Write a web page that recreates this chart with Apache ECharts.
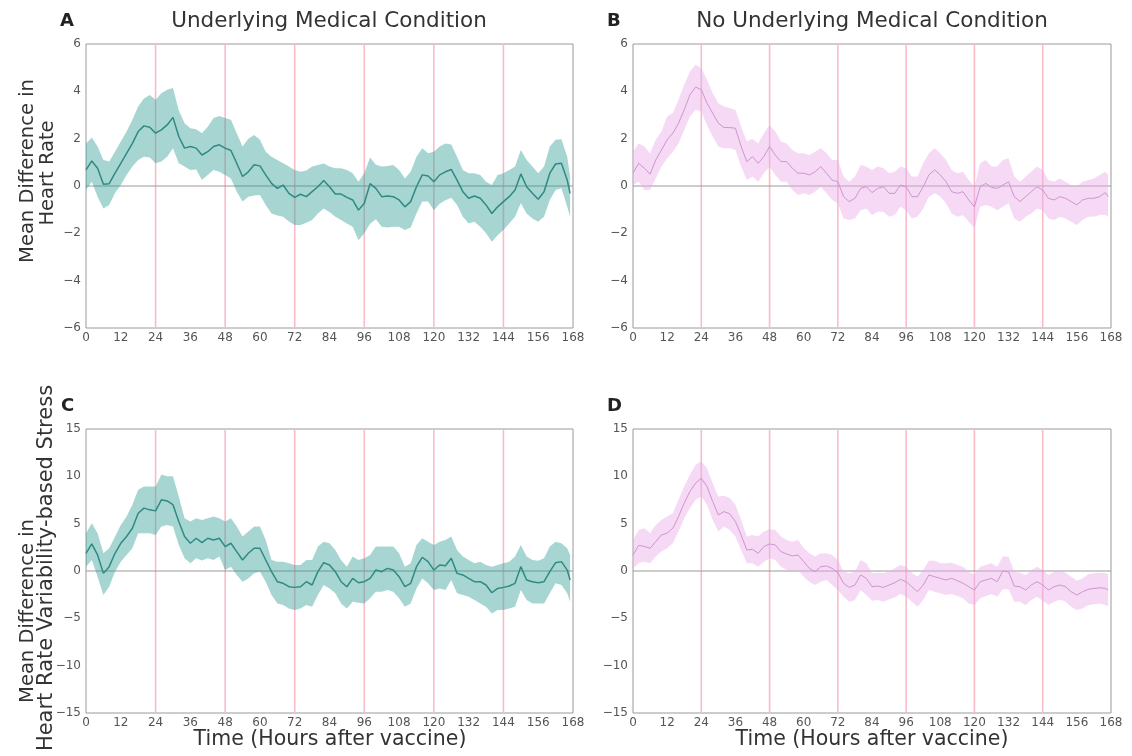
<!DOCTYPE html>
<html><head><meta charset="utf-8">
<script src="https://cdn.jsdelivr.net/npm/echarts@6/dist/echarts.min.js"></script>
<style>html,body{margin:0;padding:0;background:#fff}#c{width:1132px;height:756px}</style>
</head><body><div id="c"></div>
<script>
const HOURS = [0,2,4,6,8,10,12,14,16,18,20,22,24,26,28,30,32,34,36,38,40,42,44,46,48,50,52,54,56,58,60,62,64,66,68,70,72,74,76,78,80,82,84,86,88,90,92,94,96,98,100,102,104,106,108,110,112,114,116,118,120,122,124,126,128,130,132,134,136,138,140,142,144,146,148,150,152,154,156,158,160,162,164,166,167];
const DAY_LINES = [24,48,72,96,120,144];
const TITLES = ["Underlying Medical Condition", "No Underlying Medical Condition"];
const LETTERS = ["A","B","C","D"];
const XLABEL = "Time (Hours after vaccine)";
const YLABEL_HR = ["Mean Difference in", "Heart Rate"];
const YLABEL_STRESS = ["Mean Difference in", "Heart Rate Variability-based Stress"];

const A_MEAN = [0.68,1.06,0.75,0.07,0.10,0.54,0.96,1.38,1.80,2.30,2.54,2.48,
2.23,2.37,2.58,2.90,2.09,1.60,1.67,1.60,1.31,1.45,1.67,1.74,
1.60,1.50,0.96,0.40,0.60,0.90,0.85,0.47,0.11,-0.10,0.04,-0.31,
-0.48,-0.35,-0.45,-0.24,-0.03,0.23,-0.03,-0.34,-0.34,-0.48,-0.59,-1.02,
-0.73,0.10,-0.10,-0.45,-0.42,-0.45,-0.59,-0.88,-0.66,-0.03,0.47,0.42,
0.18,0.47,0.60,0.70,0.25,-0.24,-0.52,-0.42,-0.52,-0.80,-1.16,-0.88,
-0.66,-0.45,-0.17,0.51,-0.03,-0.31,-0.56,-0.24,0.54,0.93,0.96,0.25,
-0.31];
const A_UPPER = [1.80,2.05,1.67,1.10,1.03,1.45,1.88,2.30,2.80,3.36,3.70,3.85,
3.64,3.92,4.07,4.14,3.20,2.65,2.44,2.40,2.23,2.50,2.87,2.96,
2.87,2.80,2.23,1.67,2.00,2.16,1.95,1.45,1.24,1.10,0.96,0.82,
0.68,0.60,0.65,0.82,0.89,0.95,0.82,0.75,0.75,0.68,0.54,0.18,
0.54,1.20,0.90,0.82,0.85,0.89,0.68,0.32,0.60,1.24,1.60,1.38,
1.45,1.67,1.80,1.75,1.24,0.68,0.54,0.54,0.47,0.18,0.04,0.47,
0.54,0.68,0.82,1.52,1.10,0.82,0.54,0.82,1.67,1.95,1.98,1.24,
0.40];
const A_LOWER = [-0.17,0.18,-0.45,-0.95,-0.80,-0.30,0.04,0.47,0.82,1.10,1.24,1.20,
0.96,1.03,1.24,1.60,0.96,0.82,0.68,0.70,0.25,0.47,0.68,0.60,
0.47,0.32,-0.24,-0.66,-0.45,-0.40,-0.38,-0.80,-1.16,-1.25,-1.30,-1.50,
-1.65,-1.65,-1.55,-1.44,-1.16,-0.95,-1.10,-1.30,-1.44,-1.58,-1.72,-2.29,
-2.00,-1.60,-1.40,-1.72,-1.75,-1.72,-1.72,-1.86,-1.75,-1.16,-0.66,-0.66,
-1.02,-0.75,-0.60,-0.50,-0.80,-1.30,-1.58,-1.51,-1.72,-2.00,-2.36,-2.08,
-1.86,-1.58,-1.30,-0.73,-1.16,-1.37,-1.51,-1.30,-0.59,-0.17,-0.10,-0.88,
-1.30];

const B_MEAN = [0.54,0.96,0.75,0.50,1.10,1.52,1.95,2.23,2.65,3.22,3.85,4.18,
4.07,3.50,3.08,2.65,2.47,2.47,2.44,1.67,1.03,1.24,0.96,1.24,
1.67,1.31,1.03,1.03,0.75,0.54,0.54,0.47,0.60,0.82,0.54,0.25,
0.18,-0.45,-0.66,-0.52,-0.10,-0.03,-0.28,-0.10,-0.03,-0.31,-0.31,0.04,
-0.03,-0.45,-0.45,-0.03,0.47,0.68,0.47,0.18,-0.24,-0.31,-0.24,-0.59,
-0.88,-0.03,0.11,-0.06,-0.10,0.04,0.18,-0.45,-0.66,-0.45,-0.24,-0.03,
-0.17,-0.52,-0.59,-0.45,-0.52,-0.66,-0.80,-0.59,-0.52,-0.52,-0.45,-0.28,
-0.45];
const B_UPPER = [1.45,1.80,1.67,1.38,1.95,2.30,2.94,3.08,3.64,4.28,4.84,5.12,
4.98,4.49,3.92,3.50,3.36,3.29,3.22,2.51,1.88,2.00,1.80,2.23,
2.58,2.30,1.88,1.80,1.52,1.38,1.38,1.31,1.45,1.60,1.38,1.10,
1.10,0.40,0.18,0.40,0.89,0.82,0.68,0.82,0.75,0.54,0.60,0.82,
0.75,0.40,0.40,0.96,1.38,1.60,1.38,1.10,0.68,0.54,0.60,0.25,
-0.03,0.96,1.10,0.82,0.82,1.10,1.17,0.40,0.18,0.40,0.60,0.82,
0.68,0.25,0.18,0.32,0.18,0.04,-0.03,0.18,0.25,0.32,0.47,0.60,
0.47];
const B_LOWER = [0.04,0.18,-0.17,-0.17,0.32,0.82,1.17,1.45,1.80,2.37,2.94,3.22,
3.15,2.58,2.09,1.67,1.60,1.60,1.52,0.82,0.25,0.40,0.18,0.54,
0.82,0.47,0.18,0.18,-0.17,-0.38,-0.31,-0.38,-0.24,-0.03,-0.31,-0.59,
-0.73,-1.37,-1.44,-1.37,-1.02,-0.95,-1.23,-1.09,-1.09,-1.30,-1.23,-0.88,
-1.02,-1.37,-1.30,-0.95,-0.45,-0.31,-0.45,-0.73,-1.16,-1.30,-1.23,-1.51,
-1.79,-0.88,-0.80,-0.88,-1.02,-0.88,-0.73,-1.37,-1.51,-1.30,-1.16,-0.95,
-1.02,-1.37,-1.44,-1.30,-1.37,-1.51,-1.65,-1.44,-1.30,-1.30,-1.23,-1.23,
-1.30];

const C_MEAN = [1.87,2.86,1.70,-0.25,0.46,1.87,2.93,3.64,4.52,6.10,6.64,6.46,
6.35,7.52,7.40,7.00,5.22,3.64,2.93,3.46,3.00,3.46,3.28,3.46,
2.58,2.93,2.05,1.16,1.87,2.40,2.40,1.16,-0.07,-1.13,-1.30,-1.66,
-1.73,-1.66,-1.13,-1.48,-0.07,0.88,0.64,-0.07,-1.13,-1.66,-0.78,-1.24,
-1.13,-0.78,0.10,-0.07,0.28,0.10,-0.60,-1.66,-1.30,0.46,1.45,0.99,
0.10,0.64,0.56,1.34,-0.25,-0.42,-0.78,-1.13,-1.13,-1.48,-2.30,-1.84,
-1.73,-1.59,-1.30,0.46,-0.95,-1.13,-1.24,-1.13,-0.07,0.88,0.99,0.10,
-0.95];
const C_UPPER = [4.00,5.05,4.00,1.87,2.40,3.63,4.87,5.75,6.99,8.58,8.93,8.93,
8.93,10.20,10.00,10.00,7.87,5.58,5.22,5.58,5.40,5.58,5.75,5.58,
5.22,5.58,4.70,3.64,4.17,4.70,4.70,3.28,1.16,0.99,0.99,0.81,
0.64,0.64,1.16,1.16,2.58,3.10,2.93,2.22,1.16,0.46,1.52,1.16,
1.34,1.69,2.58,2.58,2.58,2.58,1.87,0.46,0.81,2.75,3.46,3.10,
2.75,3.10,3.28,3.64,2.22,1.52,1.16,0.81,0.99,0.64,0.46,0.64,
0.81,0.99,1.52,2.75,1.52,1.16,1.09,1.34,2.58,3.10,2.93,2.40,
1.69];
const C_LOWER = [0.46,1.16,-0.60,-2.54,-1.66,-0.07,0.99,1.69,2.40,4.00,4.00,4.00,
3.81,4.70,4.87,4.70,2.75,1.34,0.81,1.34,1.10,1.34,1.16,1.52,
0.10,0.46,-0.42,-1.13,-0.78,-0.25,-0.07,-1.13,-2.54,-3.42,-3.60,-3.95,
-4.13,-3.95,-3.60,-3.78,-2.54,-1.48,-1.84,-2.36,-3.42,-3.95,-3.25,-3.35,
-3.42,-2.89,-2.19,-2.19,-2.01,-2.19,-2.89,-3.78,-3.42,-1.84,-0.78,-1.30,
-2.01,-1.84,-2.01,-0.95,-2.36,-2.54,-2.72,-3.07,-3.42,-3.78,-4.48,-4.13,
-4.13,-3.95,-3.78,-2.01,-3.07,-3.42,-3.42,-3.42,-2.36,-1.30,-1.48,-2.36,
-3.25];

const D_MEAN = [1.69,2.70,2.60,2.40,3.10,3.81,3.99,4.52,5.75,7.17,8.40,9.28,
9.81,8.93,7.34,5.93,6.28,6.04,5.22,3.81,2.22,2.29,1.87,2.58,
2.86,2.75,2.05,1.80,1.59,1.69,0.99,0.28,-0.07,0.46,0.53,0.28,
-0.18,-1.30,-1.73,-1.48,-0.42,-0.78,-1.66,-1.59,-1.73,-1.48,-1.24,-0.88,
-1.13,-1.66,-2.19,-1.48,-0.42,-0.60,-0.78,-0.95,-0.78,-1.02,-1.30,-1.66,
-2.01,-1.13,-0.95,-0.78,-1.13,0.00,-0.10,-1.59,-1.66,-2.01,-1.48,-1.13,
-1.48,-2.01,-1.66,-1.48,-1.66,-2.19,-2.54,-2.19,-1.94,-1.84,-1.77,-1.84,
-2.01];
const D_UPPER = [3.28,4.34,4.52,3.99,4.87,5.40,5.75,6.10,7.52,8.93,10.17,11.22,
11.58,10.87,9.28,7.87,7.94,7.70,6.99,5.40,3.64,3.81,3.64,4.17,
4.41,4.34,3.64,3.28,3.10,3.28,2.40,1.87,1.52,1.87,1.87,1.69,
1.16,-0.07,-0.25,-0.07,1.16,0.81,-0.25,-0.18,-0.25,-0.07,0.28,0.64,
0.46,-0.18,-0.60,0.10,1.09,1.09,0.81,0.81,0.88,0.64,0.46,-0.07,
-0.42,0.46,0.64,0.81,0.46,1.52,1.52,-0.07,-0.18,-0.42,0.10,0.46,
0.10,-0.42,-0.07,0.00,-0.18,-0.60,-1.02,-0.78,-0.35,-0.25,-0.18,-0.25,
-0.35];
const D_LOWER = [0.28,0.81,0.99,0.81,1.52,2.05,2.40,2.93,4.17,5.58,6.64,7.52,
7.87,7.00,5.40,4.17,4.70,4.34,3.64,2.22,0.81,0.81,0.46,0.99,
1.34,1.16,0.46,0.10,-0.07,0.10,-0.60,-1.13,-1.48,-1.13,-0.95,-1.48,
-2.00,-2.72,-3.25,-3.07,-2.01,-2.54,-3.15,-3.07,-3.25,-3.00,-2.78,-2.43,
-2.72,-3.25,-3.78,-3.07,-2.01,-2.19,-2.36,-2.54,-2.43,-2.65,-2.89,-3.42,
-3.60,-2.89,-2.65,-2.43,-2.72,-1.94,-1.94,-3.25,-3.25,-3.60,-3.07,-2.72,
-3.15,-3.60,-3.25,-3.00,-3.25,-3.78,-4.13,-3.95,-3.60,-3.50,-3.42,-3.60,
-3.71];

const FONT = "DejaVu Sans";
const TEAL = {line:'#2e8a83', fill:'rgba(46,158,148,0.42)', width:1.5};
const PINK = {line:'#cf95cf', fill:'rgba(232,170,232,0.45)', width:1};

const panels = [
  {mean:A_MEAN, upper:A_UPPER, lower:A_LOWER, c:TEAL, y:[-6,6,2]},
  {mean:B_MEAN, upper:B_UPPER, lower:B_LOWER, c:PINK, y:[-6,6,2]},
  {mean:C_MEAN, upper:C_UPPER, lower:C_LOWER, c:TEAL, y:[-15,15,5]},
  {mean:D_MEAN, upper:D_UPPER, lower:D_LOWER, c:PINK, y:[-15,15,5]}
];
const grids = [
  {left:86, top:44, width:487, height:284},
  {left:633, top:44, width:478, height:284},
  {left:86, top:429, width:487, height:284},
  {left:633, top:429, width:478, height:284}
];

const option = {
  animation:false,
  backgroundColor:'#fff',
  grid: grids.map(g => Object.assign({show:true, borderColor:'#9a9a9a', borderWidth:1, backgroundColor:'transparent'}, g)),
  xAxis: grids.map((g,i) => ({
    type:'value', gridIndex:i, min:0, max:168, interval:12,
    axisLine:{show:false}, axisTick:{show:false}, splitLine:{show:false},
    axisLabel:{color:'#555', fontSize:12, fontFamily:FONT, margin:4}
  })),
  yAxis: panels.map((p,i) => ({
    type:'value', gridIndex:i, min:p.y[0], max:p.y[1], interval:p.y[2],
    axisLine:{show:false}, axisTick:{show:false}, splitLine:{show:false},
    axisLabel:{color:'#555', fontSize:12, fontFamily:FONT, margin:5,
      formatter: v => String(v).replace('-', '\u2212')}
  })),
  series: [],
  graphic: []
};

panels.forEach((p,i) => {
  // vertical day lines (below band)
  option.series.push({
    type:'custom', xAxisIndex:i, yAxisIndex:i, z:1, silent:true,
    data: DAY_LINES.map(d => [d]),
    encode:{x:0},
    renderItem: (params, api) => {
      const d = api.value(0);
      const a = api.coord([d, p.y[0]]), b = api.coord([d, p.y[1]]);
      return {type:'line', shape:{x1:a[0], y1:a[1], x2:b[0], y2:b[1]},
        style:{stroke:'#f9bcc7', lineWidth:1.6}};
    }
  });
  // zero line
  option.series.push({
    type:'custom', xAxisIndex:i, yAxisIndex:i, z:1, silent:true,
    data: [[0, 0]],
    encode:{x:0, y:1},
    renderItem: (params, api) => {
      const a = api.coord([0, 0]), b = api.coord([168, 0]);
      return {type:'line', shape:{x1:a[0], y1:a[1], x2:b[0], y2:b[1]},
        style:{stroke:'#9a9a9a', lineWidth:1}};
    }
  });
  // confidence band
  option.series.push({
    type:'custom', xAxisIndex:i, yAxisIndex:i, z:2, silent:true,
    data: HOURS.map((h,k) => [h, p.upper[k], p.lower[k]]),
    encode:{x:0, y:[1,2]},
    renderItem: (params, api) => {
      if (params.dataIndex !== 0) return null;
      const pts = [];
      for (let k = 0; k < HOURS.length; k++) pts.push(api.coord([HOURS[k], p.upper[k]]));
      for (let k = HOURS.length - 1; k >= 0; k--) pts.push(api.coord([HOURS[k], p.lower[k]]));
      return {type:'polygon', shape:{points:pts}, style:{fill:p.c.fill, stroke:null}};
    }
  });
  // mean line
  option.series.push({
    type:'line', xAxisIndex:i, yAxisIndex:i, z:3,
    data: HOURS.map((h,k) => [h, p.mean[k]]),
    showSymbol:false, lineStyle:{color:p.c.line, width:p.c.width}
  });
});

const textStyle = (extra) => Object.assign({fill:'#333', fontFamily:FONT}, extra);
const letter = (t, x, y) => ({type:'text', x:x, y:y, style:textStyle({text:t, fontSize:18, fontWeight:'bold', fill:'#222', align:'left', verticalAlign:'middle'})});
option.graphic.push(
  {type:'text', x:329, y:21, style:textStyle({text:TITLES[0], fontSize:21.5, align:'center', verticalAlign:'middle'})},
  {type:'text', x:872, y:21, style:textStyle({text:TITLES[1], fontSize:21.5, align:'center', verticalAlign:'middle'})},
  letter(LETTERS[0], 60, 21), letter(LETTERS[1], 607, 21),
  letter(LETTERS[2], 61, 406), letter(LETTERS[3], 607, 406),
  {type:'text', x:330, y:740, style:textStyle({text:XLABEL, fontSize:20.5, align:'center', verticalAlign:'middle'})},
  {type:'text', x:872, y:740, style:textStyle({text:XLABEL, fontSize:20.5, align:'center', verticalAlign:'middle'})},
  {type:'text', x:28, y:171, rotation:Math.PI/2, style:textStyle({text:YLABEL_HR[0], fontSize:19.5, align:'center', verticalAlign:'middle'})},
  {type:'text', x:48, y:173, rotation:Math.PI/2, style:textStyle({text:YLABEL_HR[1], fontSize:19.5, align:'center', verticalAlign:'middle'})},
  {type:'text', x:28, y:611, rotation:Math.PI/2, style:textStyle({text:YLABEL_STRESS[0], fontSize:19.5, align:'center', verticalAlign:'middle'})},
  {type:'text', x:47, y:568, rotation:Math.PI/2, style:textStyle({text:YLABEL_STRESS[1], fontSize:21, align:'center', verticalAlign:'middle'})}
);

const chart = echarts.init(document.getElementById('c'), null, {renderer:'canvas'});
chart.setOption(option);
</script></body></html>
